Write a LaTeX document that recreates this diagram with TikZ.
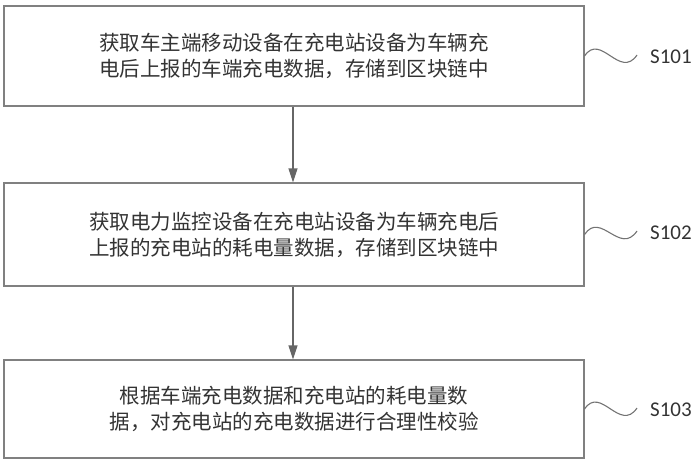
\documentclass[tikz,border=0pt]{standalone}
\usepackage{fontspec}
\newfontfamily\cjk{Noto Sans CJK SC}
\newfontfamily\lab{Carlito}
\usetikzlibrary{arrows.meta}
\begin{document}
\begin{tikzpicture}[x=1pt,y=-1pt,
  stepbox/.style={draw=black!50,line width=1.1pt,minimum width=580pt,inner sep=0pt,
    align=center,text=black!80,font=\cjk\fontsize{20.5pt}{26pt}\selectfont},
  flow/.style={draw=black!60,line width=1.1pt,-{Triangle[length=14pt,width=9pt]}},
  wave/.style={draw=black!55,line width=1.1pt},
  steplabel/.style={anchor=west,inner sep=0pt,text=black!80,font=\lab\fontsize{21pt}{25pt}\selectfont}]
\useasboundingbox (0,0) rectangle (698,464);
\node[stepbox,minimum height=100pt] (b1) at (294,56) {获取车主端移动设备在充电站设备为车辆充\\电后上报的车端充电数据，存储到区块链中};
\node[stepbox,minimum height=103pt] (b2) at (294,234.5) {获取电力监控设备在充电站设备为车辆充电后\\上报的充电站的耗电量数据，存储到区块链中};
\node[stepbox,minimum height=98pt] (b3) at (294,409) {根据车端充电数据和充电站的耗电量数\\据，对充电站的充电数据进行合理性校验};
\draw[flow] (b1.south -| 293,0) -- (b2.north -| 293,0);
\draw[flow] (b2.south -| 293,0) -- (b3.north -| 293,0);
\coordinate (w1) at (637,55);
\coordinate (w2) at (637,231);
\coordinate (w3) at (637,408);
\node[steplabel] (l1) at (650,57) {S101};
\node[steplabel] (l2) at (650,233) {S102};
\node[steplabel] (l3) at (650,410) {S103};
\draw[wave] (b1.east) .. controls +(16,-24) and +(-17,25) .. (w1);
\draw[wave] (b2.east) .. controls +(16,-24) and +(-17,25) .. (w2);
\draw[wave] (b3.east) .. controls +(16,-24) and +(-17,25) .. (w3);
\end{tikzpicture}
\end{document}
